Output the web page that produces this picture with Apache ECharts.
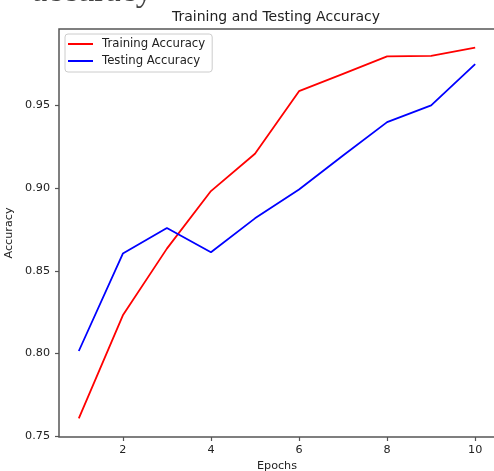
<!DOCTYPE html>
<html>
<head>
<meta charset="utf-8">
<script src="https://cdn.jsdelivr.net/npm/echarts@6/dist/echarts.min.js"></script>
<style>
  html, body { margin: 0; padding: 0; background: #fff; }
  #main { width: 494px; height: 471px; }
</style>
</head>
<body>
<div id="main"></div>
<script>
var epochs = [1, 2, 3, 4, 5, 6, 7, 8, 9, 10];
var trainAcc = [0.7607, 0.8231, 0.8634, 0.8982, 0.9208, 0.9586, 0.9691, 0.9796, 0.9800, 0.9850];
var testAcc = [0.8015, 0.8604, 0.8759, 0.8612, 0.8817, 0.8992, 0.9197, 0.9399, 0.9500, 0.9750];
var xTicks = [2, 4, 6, 8, 10];
var yTicks = [0.75, 0.80, 0.85, 0.90, 0.95];

function pairs(ys) {
    return epochs.map(function (e, i) { return [e, ys[i]]; });
}

var font = 'DejaVu Sans';
var spine = '#555';

var option = {
    animation: false,
    title: {
        text: 'Training and Testing Accuracy',
        left: 276,
        top: 10,
        padding: 0,
        textAlign: 'center',
        textStyle: { fontFamily: font, fontSize: 14, fontWeight: 'normal', color: '#222' }
    },
    graphic: [{
        // cropped heading at the very top of the screenshot
        type: 'text',
        left: 32,
        top: -25,
        style: { text: 'accuracy', font: '34px "Liberation Serif"', fill: '#444' }
    }],
    legend: {
        orient: 'vertical',
        left: 65,
        top: 34,
        padding: [3, 7, 4, 3],
        itemGap: 3,
        itemWidth: 25,
        itemHeight: 2,
        borderColor: '#ccc',
        borderWidth: 1,
        borderRadius: 3,
        textStyle: { fontFamily: font, fontSize: 11.7, color: '#222', lineHeight: 14, padding: [0, 0, 0, 4] },
        data: [
            { name: 'Training Accuracy', icon: 'rect' },
            { name: 'Testing Accuracy', icon: 'rect' }
        ]
    },
    grid: {
        left: 59,
        top: 29,
        right: -1,
        bottom: 34,
        outerBoundsMode: 'none',
        containLabel: false,
        show: true,
        borderColor: spine,
        borderWidth: 1.5
    },
    xAxis: {
        type: 'value',
        min: 0.55,
        max: 10.45,
        name: 'Epochs',
        nameLocation: 'middle',
        nameGap: 23,
        nameTextStyle: { fontFamily: font, fontSize: 11.2, color: '#222' },
        axisLine: { show: false },
        axisTick: { show: true, length: 4, customValues: xTicks, lineStyle: { color: spine, width: 1.2 } },
        axisLabel: { customValues: xTicks, margin: 8, fontFamily: font, fontSize: 11.2, color: '#222' },
        splitLine: { show: false }
    },
    yAxis: {
        type: 'value',
        min: 0.7495,
        max: 0.9962,
        name: 'Accuracy',
        nameLocation: 'middle',
        nameGap: 37,
        nameTextStyle: { fontFamily: font, fontSize: 11.2, color: '#222' },
        axisLine: { show: false },
        axisTick: { show: true, length: 4, customValues: yTicks, lineStyle: { color: spine, width: 1.2 } },
        axisLabel: {
            customValues: yTicks, margin: 9, fontFamily: font, fontSize: 11.2, color: '#222',
            formatter: function (v) { return v.toFixed(2); }
        },
        splitLine: { show: false }
    },
    series: [
        {
            name: 'Training Accuracy',
            type: 'line',
            data: pairs(trainAcc),
            showSymbol: false,
            color: '#ff0000',
            lineStyle: { width: 1.8, color: '#ff0000' }
        },
        {
            name: 'Testing Accuracy',
            type: 'line',
            data: pairs(testAcc),
            showSymbol: false,
            color: '#0000ff',
            lineStyle: { width: 1.8, color: '#0000ff' }
        }
    ]
};

var myChart = echarts.init(document.getElementById('main'));
myChart.setOption(option);
</script>
</body>
</html>
